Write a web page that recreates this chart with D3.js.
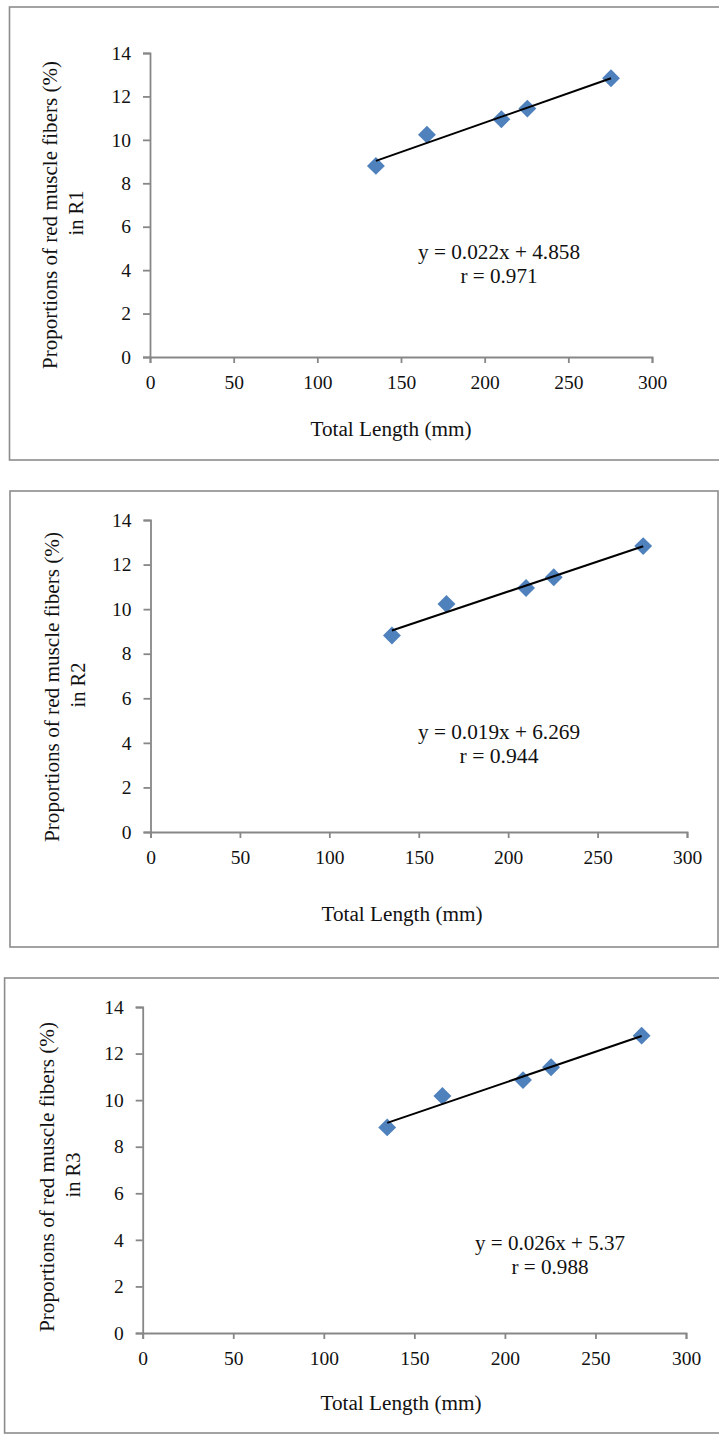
<!DOCTYPE html>
<html>
<head>
<meta charset="utf-8">
<script src="https://cdn.jsdelivr.net/npm/d3@7"></script>
<style>
  html, body { margin: 0; padding: 0; background: #fff; }
  svg { display: block; }
  svg text { font-family: "Liberation Serif", "Times New Roman", serif !important; fill: #111; }
</style>
</head>
<body>
<svg id="chart" width="719" height="1436" font-family="Liberation Serif, serif"></svg>
<script>
// ---------- data ----------
const totalLength = [135, 165.5, 210, 225.5, 275.5];
const r1Values = [8.80, 10.24, 10.95, 11.44, 12.84];
const r2Values = [8.82, 10.23, 10.95, 11.43, 12.83];
const r3Values = [8.83, 10.18, 10.86, 11.41, 12.77];
const xTicks = [0, 50, 100, 150, 200, 250, 300];
const yTicks = [0, 2, 4, 6, 8, 10, 12, 14];
const equations = ["y = 0.022x + 4.858", "y = 0.019x + 6.269", "y = 0.026x + 5.37"];
const rValues = ["r = 0.971", "r = 0.944", "r = 0.988"];
const regionNames = ["R1", "R2", "R3"];
const xTitle = "Total Length (mm)";
const yTitle = "Proportions of red muscle fibers (%)";

// ---------- layout (positions only) ----------
const layout = [
  { box: [9.5, 7, 740, 460], plot: [150, 652, 357, 53], yLab: [57, 83], yMid: 215, yLen: 308,
    title: [391, 436], eq: [499, 258.8, 282.5], eqLen: 162, rLen: 77 },
  { box: [10, 491, 718, 947], plot: [150.5, 687, 832, 520], yLab: [58.5, 84.5], yMid: 687, yLen: 310,
    title: [402, 921], eq: [499, 738.8, 762.5], eqLen: 162, rLen: 79 },
  { box: [4.6, 978, 740, 1433], plot: [142.7, 686, 1333, 1007], yLab: [54, 79.5], yMid: 1177, yLen: 310,
    title: [401, 1410], eq: [550, 1250, 1273.5], eqLen: 150, rLen: 77 }
];
const seriesValues = [r1Values, r2Values, r3Values];

const svg = d3.select("#chart");
const axisColor = "#878787";
const serif = "Liberation Serif, Times New Roman, serif";

layout.forEach((L, i) => {
  const g = svg.append("g").attr("font-family", serif);
  const vals = seriesValues[i];

  // panel border
  g.append("rect")
    .attr("x", L.box[0]).attr("y", L.box[1])
    .attr("width", L.box[2] - L.box[0]).attr("height", L.box[3] - L.box[1])
    .attr("fill", "none").attr("stroke", "#8c8c8c").attr("stroke-width", 1.6);

  const x = d3.scaleLinear().domain([0, 300]).range([L.plot[0], L.plot[1]]);
  const y = d3.scaleLinear().domain([0, 14]).range([L.plot[2], L.plot[3]]);

  // axes
  const xAxis = g.append("g").attr("transform", `translate(0,${L.plot[2]})`)
    .call(d3.axisBottom(x).tickValues(xTicks).tickSizeOuter(0).tickSize(6).tickPadding(12).tickFormat(d3.format("d")));
  const yAxis = g.append("g").attr("transform", `translate(${L.plot[0]},0)`)
    .call(d3.axisLeft(y).tickValues(yTicks).tickSizeOuter(0).tickSize(7).tickPadding(12).tickFormat(d3.format("d")));
  [xAxis, yAxis].forEach(a => {
    a.attr("font-family", serif).attr("font-size", 19.5);
    a.select(".domain").attr("stroke", axisColor).attr("stroke-width", 1.8);
    a.selectAll(".tick line").attr("stroke", axisColor).attr("stroke-width", 1.8);
    a.selectAll(".tick text").attr("fill", "#111").attr("font-family", serif).attr("font-size", 19.5);
  });

  // trend line (least squares over the points)
  const mx = d3.mean(totalLength), my = d3.mean(vals);
  const sxy = d3.sum(totalLength.map((t, k) => (t - mx) * (vals[k] - my)));
  const sxx = d3.sum(totalLength.map(t => (t - mx) * (t - mx)));
  const slope = sxy / sxx, icpt = my - slope * mx;
  const ext = d3.extent(totalLength);

  // points
  const sym = d3.symbol().type(d3.symbolSquare).size(160);
  g.append("g").selectAll("path").data(totalLength).join("path")
    .attr("d", sym)
    .attr("transform", (t, k) => `translate(${x(t)},${y(vals[k])}) rotate(45)`)
    .attr("fill", "#4F81BD");

  g.append("line")
    .attr("x1", x(ext[0])).attr("y1", y(slope * ext[0] + icpt))
    .attr("x2", x(ext[1])).attr("y2", y(slope * ext[1] + icpt))
    .attr("stroke", "#000").attr("stroke-width", 2);

  // equation text
  g.append("text").attr("x", L.eq[0]).attr("y", L.eq[1]).attr("text-anchor", "middle")
    .attr("font-size", 20.5).attr("textLength", L.eqLen).attr("lengthAdjust", "spacingAndGlyphs")
    .text(equations[i]);
  g.append("text").attr("x", L.eq[0]).attr("y", L.eq[2]).attr("text-anchor", "middle")
    .attr("font-size", 20.5).attr("textLength", L.rLen).attr("lengthAdjust", "spacingAndGlyphs")
    .text(rValues[i]);

  // x title
  g.append("text").attr("x", L.title[0]).attr("y", L.title[1]).attr("text-anchor", "middle")
    .attr("font-size", 20.5).attr("textLength", 161).attr("lengthAdjust", "spacingAndGlyphs")
    .text(xTitle);

  // y title (two lines)
  g.append("text").attr("text-anchor", "middle")
    .attr("transform", `translate(${L.yLab[0]},${L.yMid}) rotate(-90)`)
    .attr("font-size", 20.5).attr("textLength", L.yLen).attr("lengthAdjust", "spacingAndGlyphs")
    .text(yTitle);
  g.append("text").attr("text-anchor", "middle")
    .attr("transform", `translate(${L.yLab[1]},${L.yMid - 2}) rotate(-90)`)
    .attr("font-size", 20.5)
    .text("in " + regionNames[i]);
});
</script>
</body>
</html>
